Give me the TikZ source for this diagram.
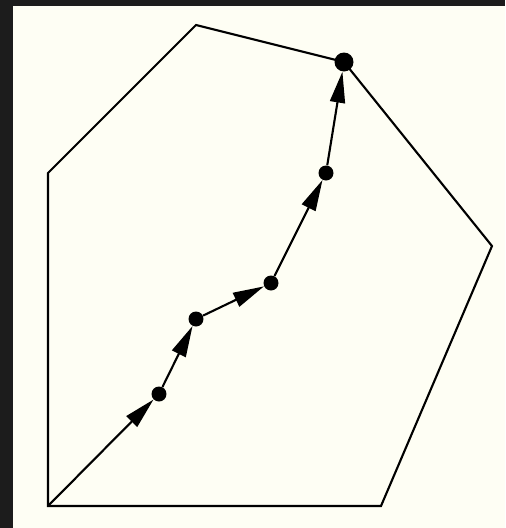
\documentclass[tikz,border=0pt]{standalone}
\usepackage{xcolor}
\usetikzlibrary{arrows.meta}
\definecolor{backdrop}{HTML}{1C1C1C}
\definecolor{paper}{HTML}{FEFEF4}

\begin{document}
\begin{tikzpicture}[
  x=0.02cm, y=-0.02cm,
  hull/.style={draw=black, line width=1.2pt, line join=miter},
  dot/.style={circle, fill=black, inner sep=0pt, minimum size=0.3cm},
  bigdot/.style={circle, fill=black, inner sep=0pt, minimum size=0.38cm},
  arrow/.style={line width=1.2pt, -{Triangle[length=0.62cm, width=0.3cm]}}
]

\fill [backdrop] (0,0) rectangle (505,528);
\fill [paper] (13,6) rectangle (505,528);
\useasboundingbox (0,0) rectangle (505,528);

\coordinate (start) at (48,506);
\coordinate (left) at (48,173);
\coordinate (top) at (196,25);
\coordinate (right) at (492,246);
\coordinate (low) at (381,506);

\node (p1) [dot] at (159,394) {};
\node (p2) [dot] at (196,319) {};
\node (p3) [dot] at (271,283) {};
\node (p4) [dot] at (326,173) {};
\node (goal) [bigdot] at (344,62) {};

\draw [hull] (start) -- (left) -- (top) -- (goal.center) -- (right) -- (low) -- cycle;

\draw [arrow] (start) -- (p1);
\draw [arrow] (p1) -- (p2);
\draw [arrow] (p2) -- (p3);
\draw [arrow] (p3) -- (p4);
\draw [arrow] (p4) -- (goal);

\end{tikzpicture}
\end{document}
